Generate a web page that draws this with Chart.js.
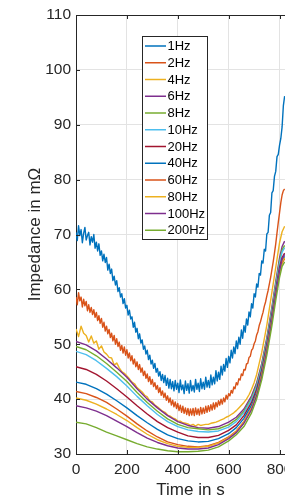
<!DOCTYPE html>
<html><head><meta charset="utf-8">
<script src="https://cdn.jsdelivr.net/npm/chart.js@4/dist/chart.umd.min.js"></script>
<style>
html,body{margin:0;padding:0;background:#fff;overflow:hidden;}
#wrap{position:relative;width:285px;height:499px;overflow:hidden;background:#fff;}
#c{position:absolute;left:0;top:0;}
</style></head><body>
<div id="wrap"><canvas id="c" width="340" height="499"></canvas></div>
<script>
const seriesLabels = ['1Hz','2Hz','4Hz','6Hz','8Hz','10Hz','20Hz','40Hz','60Hz','80Hz','100Hz','200Hz'];
const seriesColors = ['#0072BD','#D95319','#EDB120','#7E2F8E','#77AC30','#4DBEEE','#A2142F','#0072BD','#D95319','#EDB120','#7E2F8E','#77AC30'];
const xTicks = [0,200,400,600,800];
const yTicks = [30,40,50,60,70,80,90,100,110];

const time5 = [0,5,10,15,20,25,30,35,40,45,50,55,60,65,70,75,80,85,90,95,100,105,110,115,120,125,130,135,140,145,150,155,160,165,170,175,180,185,190,195,200,205,210,215,220,225,230,235,240,245,250,255,260,265,270,275,280,285,290,295,300,305,310,315,320,325,330,335,340,345,350,355,360,365,370,375,380,385,390,395,400,405,410,415,420,425,430,435,440,445,450,455,460,465,470,475,480,485,490,495,500,505,510,515,520,525,530,535,540,545,550,555,560,565,570,575,580,585,590,595,600,605,610,615,620,625,630,635,640,645,650,655,660,665,670,675,680,685,690,695,700,705,710,715,720,725,730,735,740,745,750,755,760,765,770,775,780,785,790,795,800,805,810,815,820];
const time10 = [0,10,20,30,40,50,60,70,80,90,100,110,120,130,140,150,160,170,180,190,200,210,220,230,240,250,260,270,280,290,300,310,320,330,340,350,360,370,380,390,400,410,420,430,440,450,460,470,480,490,500,510,520,530,540,550,560,570,580,590,600,610,620,630,640,650,660,670,680,690,700,710,720,730,740,750,760,770,780,790,800,810,820];
const timeCoarse = [0,40,80,120,160,200,240,280,320,360,400,440,480,520,560,600,630,660,690,710,730,750,770,785,800,810,820];

const imp1Hz = [70.4,68.9,71.6,69.8,70.9,68.5,70.2,71.3,69.0,69.8,70.4,68.1,69.6,68.6,70.0,67.5,68.6,67.0,68.3,66.2,67.0,65.2,66.4,64.9,65.8,63.5,64.6,62.9,63.7,61.6,62.4,60.8,61.6,59.6,60.3,58.6,59.2,57.4,58.3,56.6,57.1,55.3,56.2,54.6,55.0,53.1,54.0,52.2,52.9,51.0,51.9,50.2,50.8,49.1,49.7,48.2,48.9,47.2,48.0,46.4,47.1,45.6,46.5,44.9,45.6,44.2,45.0,43.4,44.5,43.0,44.3,42.5,43.8,42.0,43.6,41.9,43.2,41.5,43.4,41.8,42.9,41.2,43.5,41.7,42.6,41.0,43.3,41.6,42.8,41.1,43.4,41.5,42.5,41.3,43.6,41.8,42.9,41.4,43.7,41.9,43.1,41.8,44.0,42.2,43.4,42.1,44.4,42.6,44.0,42.8,45.2,43.3,44.9,43.6,46.0,44.4,46.3,45.1,47.4,45.8,47.8,46.6,48.9,47.5,49.5,48.3,50.6,49.2,51.3,50.0,52.6,51.1,53.4,52.2,54.6,53.5,55.9,55.0,57.4,56.6,59.2,58.6,61.0,60.4,62.9,62.6,65.2,64.8,67.3,67.0,70.1,70.4,73.5,74.0,77.6,78.0,80.6,81.5,84.2,84.6,86.3,87.5,89.6,93.5,95.2];
const imp2Hz = [58.6,57.2,59.4,57.9,58.6,56.8,58.2,57.0,57.8,56.1,57.2,55.8,56.7,55.4,56.3,54.9,55.8,54.3,55.2,53.8,54.7,53.1,54.0,52.4,53.3,51.9,52.7,51.2,52.0,50.6,51.6,50.0,51.0,49.6,50.4,48.9,49.8,48.4,49.5,48.0,49.0,47.5,48.4,47.0,47.9,46.4,47.3,45.9,46.8,45.4,46.3,44.9,45.7,44.3,45.1,43.8,44.6,43.2,44.1,42.7,43.6,42.3,43.0,41.8,42.5,41.2,42.1,40.7,41.5,40.3,41.1,39.8,40.6,39.4,40.2,38.9,39.8,38.6,39.5,38.3,39.2,37.9,38.9,37.6,38.7,37.4,38.4,37.2,38.3,37.0,38.2,37.1,38.3,37.0,38.4,37.2,38.2,37.1,38.5,37.3,38.4,37.4,38.7,37.6,38.8,37.8,39.0,38.0,39.3,38.2,39.4,38.6,39.7,38.9,40.0,39.1,40.2,39.5,40.7,40.0,41.0,40.6,41.6,41.1,42.2,41.9,43.0,42.6,43.7,43.5,44.6,44.3,45.4,45.3,46.4,46.5,47.6,47.8,48.9,49.2,50.1,50.6,51.7,52.3,53.4,54.1,55.0,55.8,56.9,57.7,58.8,59.8,61.0,62.2,63.6,65.0,66.6,68.3,70.3,72.2,74.0,75.8,77.2,78.0,78.3];
const imp4Hz = [52.8,51.4,53.3,52.0,51.6,50.4,51.5,50.2,50.6,49.1,49.7,48.6,48.2,47.6,47.5,46.2,46.6,45.7,45.0,44.7,44.2,43.7,43.1,42.8,42.1,41.7,41.3,40.7,40.4,39.7,39.5,38.9,38.6,38.2,37.8,37.6,37.1,36.9,36.6,36.4,36.0,36.0,35.7,35.6,35.5,35.2,35.4,35.1,35.4,35.2,35.3,35.4,35.4,35.6,35.7,35.8,36.0,36.2,36.4,36.7,36.9,37.2,37.5,37.9,38.4,38.9,39.4,40.0,40.8,41.8,43.0,44.5,46.5,48.5,51.0,53.5,56.5,59.5,62.5,65.5,68.5,70.5,71.5];
const imp6Hz = [50.5,49.9,48.8,47.3,45.7,44.0,41.9,40.0,38.4,37.0,35.9,35.2,34.8,34.7,35.0,35.8,36.7,38.2,40.6,43.0,46.5,51.2,56.8,61.4,65.8,67.8,68.8];
const imp8Hz = [49.6,49.0,47.9,46.5,44.9,43.2,41.2,39.4,37.8,36.4,35.4,34.8,34.6,34.4,34.6,35.3,36.3,37.8,40.2,42.6,46.1,50.8,56.3,60.9,65.2,67.2,68.0];
const imp10Hz = [48.7,48.1,47.0,45.6,44.1,42.4,40.5,38.8,37.2,35.9,35.0,34.4,34.1,34.0,34.2,34.9,35.9,37.5,39.9,42.3,45.8,50.5,56.0,60.6,64.8,66.8,67.6];
const imp20Hz = [45.9,45.4,44.5,43.3,41.9,40.4,38.8,37.3,35.9,34.8,34.0,33.3,33.0,33.0,33.4,34.3,35.3,37.0,39.4,41.8,45.3,50.0,55.4,59.9,64.0,65.8,66.6];
const imp40Hz = [43.1,42.7,41.9,40.9,39.7,38.4,37.0,35.7,34.5,33.5,32.8,32.4,32.2,32.3,32.8,33.7,34.8,36.5,38.9,41.3,44.9,49.6,55.0,59.5,63.5,65.2,66.0];
const imp60Hz = [41.4,41.0,40.3,39.4,38.2,36.9,35.5,34.2,33.1,32.2,31.7,31.4,31.3,31.5,32.1,33.1,34.2,35.9,38.4,40.9,44.5,49.2,54.6,59.1,63.1,64.8,65.6];
const imp80Hz = [40.2,39.8,39.1,38.2,37.2,36.1,34.8,33.6,32.6,31.9,31.4,31.2,31.2,31.4,32.0,33.0,34.1,35.8,38.3,40.8,44.3,49.0,54.4,59.0,63.1,65.0,65.8];
const imp100Hz = [38.8,38.4,37.8,37.0,36.0,35.0,33.9,32.9,32.1,31.5,31.1,30.9,30.9,31.1,31.7,32.8,33.9,35.6,38.1,40.6,44.1,48.8,54.3,59.0,63.3,65.5,66.4];
const imp200Hz = [35.8,35.5,34.8,34.0,33.3,32.6,31.9,31.3,30.9,30.6,30.4,30.4,30.5,30.7,31.3,32.4,33.5,35.0,37.5,40.0,43.5,48.0,53.4,58.0,62.2,64.2,65.0];

const seriesValues = [imp1Hz,imp2Hz,imp4Hz,imp6Hz,imp8Hz,imp10Hz,imp20Hz,imp40Hz,imp60Hz,imp80Hz,imp100Hz,imp200Hz];
const seriesTimes = [time5,time5,time10,timeCoarse,timeCoarse,timeCoarse,timeCoarse,timeCoarse,timeCoarse,timeCoarse,timeCoarse,timeCoarse];

Chart.defaults.font.family = '"Liberation Sans", Arial, sans-serif';
const axisColor = '#262626';

const datasets = seriesLabels.map((lab,i)=>({
  label: lab,
  data: seriesTimes[i].map((t,k)=>({x:t,y:seriesValues[i][k]})),
  borderColor: seriesColors[i],
  backgroundColor: seriesColors[i],
  borderWidth: 1.4,
  borderJoinStyle: 'round',
  pointRadius: 0,
  fill: false,
  tension: 0,
  order: seriesLabels.length - i
}));

const framePlugin = {
  id: 'frame',
  afterDraw(chart){
    const {ctx, chartArea:a, scales} = chart;
    ctx.save();
    ctx.strokeStyle = axisColor; ctx.lineWidth = 1;
    ctx.beginPath();
    ctx.moveTo(a.left, Math.round(a.top)+0.5); ctx.lineTo(a.right, Math.round(a.top)+0.5);
    xTicks.forEach(v=>{
      const px = Math.round(scales.x.getPixelForValue(v))+0.5;
      ctx.moveTo(px, a.bottom); ctx.lineTo(px, a.bottom-4);
      ctx.moveTo(px, a.top); ctx.lineTo(px, a.top+4);
    });
    yTicks.forEach(v=>{
      const py = Math.round(scales.y.getPixelForValue(v))+0.5;
      ctx.moveTo(a.left, py); ctx.lineTo(a.left+4, py);
    });
    ctx.stroke();
    ctx.restore();
  }
};

const legendPlugin = {
  id: 'boxLegend',
  afterDraw(chart){
    const ctx = chart.ctx;
    const bx = 142.5, by = 36.5, bw = 65, bh = 203;
    ctx.save();
    ctx.fillStyle = '#fff'; ctx.fillRect(bx,by,bw,bh);
    ctx.strokeStyle = axisColor; ctx.lineWidth = 1; ctx.strokeRect(bx,by,bw,bh);
    ctx.font = '13px "Liberation Sans", Arial, sans-serif';
    ctx.textBaseline = 'middle'; ctx.textAlign = 'left';
    chart.data.datasets.forEach((ds,i)=>{
      const y = 46 + i*16.75;
      ctx.strokeStyle = ds.borderColor; ctx.lineWidth = 1.5;
      ctx.beginPath(); ctx.moveTo(145,y); ctx.lineTo(166,y); ctx.stroke();
      ctx.fillStyle = '#000';
      ctx.fillText(ds.label, 167.5, y+0.5);
    });
    ctx.restore();
  }
};

new Chart(document.getElementById('c'), {
  type: 'line',
  data: { datasets },
  options: {
    responsive: false,
    animation: false,
    layout: { padding: { left: 0, top: 15, right: 35, bottom: 0 } },
    plugins: { legend: { display: false }, tooltip: { enabled: false } },
    scales: {
      x: {
        type: 'linear', min: 0, max: 900,
        afterBuildTicks: s => { s.ticks = xTicks.map(v=>({value:v})); },
        afterFit: s => { s.height = 45; },
        ticks: { font: { size: 15.5 }, color: axisColor, padding: 6, maxRotation: 0, autoSkip: false },
        grid: { color: '#e3e3e3', drawTicks: false },
        border: { color: axisColor, width: 1 },
        title: { display: true, text: 'Time in s', font: { size: 17, lineHeight: 1 }, color: axisColor, padding: 0 }
      },
      y: {
        type: 'linear', min: 30, max: 110,
        afterBuildTicks: s => { s.ticks = yTicks.map(v=>({value:v})); },
        afterFit: s => { s.width = 76; },
        ticks: { font: { size: 15.5 }, color: axisColor, padding: 5 },
        grid: { color: '#e3e3e3', drawTicks: false },
        border: { color: axisColor, width: 1 },
        title: { display: true, text: 'Impedance in mΩ', font: { size: 17, lineHeight: 1 }, color: axisColor, padding: { top: 27, bottom: 0 } }
      }
    }
  },
  plugins: [framePlugin, legendPlugin]
});
</script>
</body></html>
